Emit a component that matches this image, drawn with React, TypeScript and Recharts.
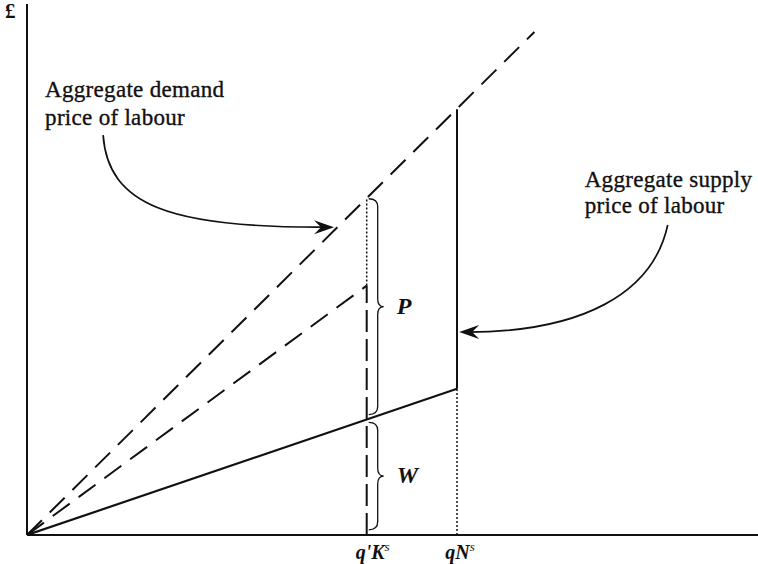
import React from 'react';
import { ComposedChart, Line, XAxis, YAxis, ReferenceLine } from 'recharts';

// quantity of labour (q) against £ (p)
const demandPrice = [{ q: 0, p: 0 }, { q: 11.8, p: 11.7 }];
const demandPriceK = [{ q: 0, p: 0 }, { q: 7.9, p: 5.8 }];
const supplyPrice = [{ q: 0, p: 0 }, { q: 10, p: 3.4 }];
const qKDashed = [{ q: 7.9, p: 0 }, { q: 7.9, p: 5.8 }];
const qKDotted = [{ q: 7.9, p: 5.8 }, { q: 7.9, p: 7.84 }];
const qNSolid = [{ q: 10, p: 3.4 }, { q: 10, p: 9.9 }];
const qNDotted = [{ q: 10, p: 0 }, { q: 10, p: 3.4 }];

const xTicks = [7.9, 10];
const tickLabels = ["q'K", 'qN'];

const braceP = [2.8, 7.82];
const braceW = [0.12, 2.62];
const braceLabels = ['P', 'W'];

const demandArrow = [{ q: 1.77, p: 9.3 }, { q: 7.14, p: 7.16 }];
const supplyArrow = [{ q: 14.9, p: 7.21 }, { q: 10.05, p: 4.72 }];
const demandText = ['Aggregate demand', 'price of labour'];
const supplyText = ['Aggregate supply', 'price of labour'];

const serif = "'Liberation Serif', 'Times New Roman', serif";
const ink = '#111';

function arrowHead(tx: number, ty: number, dx: number, dy: number) {
    const len = Math.hypot(dx, dy);
    const ux = dx / len;
    const uy = dy / len;
    const px = -uy;
    const py = ux;
    const L = 20, W = 7, N = 13;
    const bx = tx - ux * L;
    const by = ty - uy * L;
    return `M${tx},${ty} L${bx + px * W},${by + py * W} L${tx - ux * N},${ty - uy * N} L${bx - px * W},${by - py * W} Z`;
}

const QTick = (props: any) => {
    const { x, y, payload } = props;
    const i = xTicks.indexOf(payload.value);
    const label = tickLabels[i] ?? '';
    const shift = label.includes("'") ? 6 : 3;
    return (
        <text x={x + shift} y={y + 22} textAnchor="middle" fontFamily={serif} fontStyle="italic" fontWeight="bold" fontSize={20} fill={ink}>
            {label}
            <tspan fontSize={13} fontWeight="normal" dy={-8}>s</tspan>
        </text>
    );
};

const makeBrace = (label: string) => (props: any) => {
    const { x1, y1, y2 } = props;
    const top = Math.min(y1, y2);
    const bot = Math.max(y1, y2);
    const x = x1 + 2;
    const mid = (top + bot) / 2;
    const bx = x + 9;
    const tip = x + 15;
    const r = 8;
    const d = `M${x},${top} Q${bx},${top} ${bx},${top + r} L${bx},${mid - r} Q${bx},${mid} ${tip},${mid} ` +
        `Q${bx},${mid} ${bx},${mid + r} L${bx},${bot - r} Q${bx},${bot} ${x},${bot}`;
    return (
        <g>
            <path d={d} fill="none" stroke={ink} strokeWidth={1.3} />
            <text x={tip + 13} y={mid + 7} fontFamily={serif} fontStyle="italic" fontWeight="bold" fontSize={24} fill={ink}>
                {label}
            </text>
        </g>
    );
};

const DemandArrow = (props: any) => {
    const { x1, y1, x2, y2 } = props;
    const dx = x2 - x1;
    const dy = y2 - y1;
    const c1x = x1 + 5, c1y = y1 + 0.76 * dy;
    const c2x = x2 - 0.71 * dx, c2y = y2 + 1;
    return (
        <g>
            <path d={`M${x1},${y1} C${c1x},${c1y} ${c2x},${c2y} ${x2 - 8},${y2}`} fill="none" stroke={ink} strokeWidth={1.7} />
            <path d={arrowHead(x2, y2, x2 - c2x, y2 - c2y)} fill={ink} />
            {demandText.map((t, i) => (
                <text key={t} x={x1 - 58} y={y1 - 38 + i * 28} fontFamily={serif} fontSize={23} letterSpacing={0.3} fill={ink} stroke={ink} strokeWidth={0.35}>
                    {t}
                </text>
            ))}
        </g>
    );
};

const SupplyArrow = (props: any) => {
    const { x1, y1, x2, y2 } = props;
    const dx = x2 - x1;
    const dy = y2 - y1;
    const c1x = x1 - 15, c1y = y1 + 0.65 * dy;
    const c2x = x2 - 0.58 * dx, c2y = y2;
    return (
        <g>
            <path d={`M${x1},${y1} C${c1x},${c1y} ${c2x},${c2y} ${x2 + 8},${y2}`} fill="none" stroke={ink} strokeWidth={1.7} />
            <path d={arrowHead(x2, y2, x2 - c2x, y2 - c2y)} fill={ink} />
            {supplyText.map((t, i) => (
                <text key={t} x={x1 - 83} y={y1 - 38 + i * 26} fontFamily={serif} fontSize={23} letterSpacing={0.3} fill={ink} stroke={ink} strokeWidth={0.35}>
                    {t}
                </text>
            ))}
        </g>
    );
};

const App: React.FC = () => {
    return (
        <div style={{ position: 'absolute', left: 0, top: 0, background: '#fff' }}>
            <ComposedChart width={758} height={564} margin={{ top: 4, right: 0, left: 0, bottom: 0 }}>
                <XAxis
                    type="number"
                    dataKey="q"
                    domain={[0, 17]}
                    allowDataOverflow
                    ticks={xTicks}
                    interval={0}
                    tick={<QTick />}
                    tickLine={false}
                    tickSize={0}
                    height={29}
                    axisLine={{ stroke: ink, strokeWidth: 2 }}
                />
                <YAxis
                    type="number"
                    dataKey="p"
                    domain={[0, 12.35]}
                    allowDataOverflow
                    tick={false}
                    tickLine={false}
                    width={27}
                    axisLine={{ stroke: ink, strokeWidth: 2 }}
                    label={(p: any) => (
                        <text x={(p.viewBox?.x ?? 0) + 5} y={(p.viewBox?.y ?? 4) + 14} fontFamily={serif} fontWeight="bold" fontSize={21} fill={ink}>
                            £
                        </text>
                    )}
                />
                <Line data={demandPrice} dataKey="p" type="linear" stroke={ink} strokeWidth={2} strokeDasharray="21 11" dot={false} activeDot={false} isAnimationActive={false} />
                <Line data={demandPriceK} dataKey="p" type="linear" stroke={ink} strokeWidth={2} strokeDasharray="21 11" dot={false} activeDot={false} isAnimationActive={false} />
                <Line data={supplyPrice} dataKey="p" type="linear" stroke={ink} strokeWidth={2.2} dot={false} activeDot={false} isAnimationActive={false} />
                <Line data={qKDashed} dataKey="p" type="linear" stroke={ink} strokeWidth={2} strokeDasharray="22 7" dot={false} activeDot={false} isAnimationActive={false} />
                <Line data={qKDotted} dataKey="p" type="linear" stroke={ink} strokeWidth={1.5} strokeDasharray="2 2" dot={false} activeDot={false} isAnimationActive={false} />
                <Line data={qNSolid} dataKey="p" type="linear" stroke={ink} strokeWidth={2} dot={false} activeDot={false} isAnimationActive={false} />
                <Line data={qNDotted} dataKey="p" type="linear" stroke={ink} strokeWidth={1.5} strokeDasharray="2 2" dot={false} activeDot={false} isAnimationActive={false} />
                <ReferenceLine segment={[{ x: xTicks[0], y: braceP[0] }, { x: xTicks[0], y: braceP[1] }]} shape={makeBrace(braceLabels[0])} />
                <ReferenceLine segment={[{ x: xTicks[0], y: braceW[0] }, { x: xTicks[0], y: braceW[1] }]} shape={makeBrace(braceLabels[1])} />
                <ReferenceLine segment={[{ x: demandArrow[0].q, y: demandArrow[0].p }, { x: demandArrow[1].q, y: demandArrow[1].p }]} shape={DemandArrow} />
                <ReferenceLine segment={[{ x: supplyArrow[0].q, y: supplyArrow[0].p }, { x: supplyArrow[1].q, y: supplyArrow[1].p }]} shape={SupplyArrow} />
            </ComposedChart>
        </div>
    );
};

export default App;
